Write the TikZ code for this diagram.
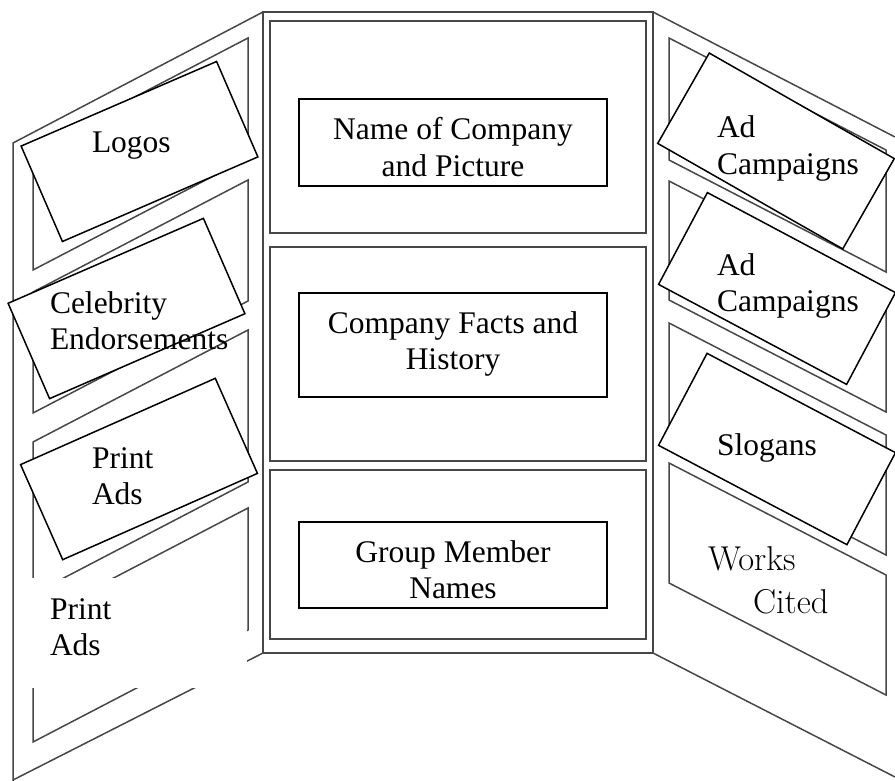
\documentclass[tikz,border=0pt]{standalone}
\usepackage{fontspec}
\newfontfamily\tnr{Liberation Serif}
\newcommand{\tsize}{\fontsize{31.5}{36.5}\selectfont}
\newcommand{\lmsize}{\fontsize{34.5}{43}\selectfont}
\newcommand{\ltxt}[1]{\begin{tabular}[t]{@{}l@{}}#1\end{tabular}}
\newcommand{\ctxt}[1]{\begin{tabular}[t]{@{}c@{}}#1\end{tabular}}
\begin{document}
\begin{tikzpicture}[x=1pt,y=-1pt,
  frame/.style={draw=black!72, line width=1.5pt, line join=miter},
  cardbox/.style={draw=black, line width=1.5pt, fill=white, inner sep=0pt, outer sep=0pt,
    minimum width=213pt, minimum height=104pt},
  labelbox/.style={draw=black, line width=1.7pt, inner sep=0pt, outer sep=0pt, minimum width=308pt},
  blank/.style={fill=white, inner sep=0pt, outer sep=0pt},
  txt/.style={inner sep=0pt, outer sep=0pt, font=\tnr\tsize},
  lmtxt/.style={inner sep=0pt, outer sep=0pt, font=\lmsize}]
\useasboundingbox (0,0) rectangle (895,781);

% ---- left wing ----
\draw[frame] (263,12) -- (13,143) -- (13,781);
\draw[frame] (13,780) -- (263,653);
\draw[frame] (33,150) -- (248,38) -- (248,158) -- (33,270) -- cycle;
\draw[frame] (33,292) -- (248,180) -- (248,301) -- (33,413) -- cycle;
\draw[frame] (33,442) -- (248,330) -- (248,482) -- (33,594) -- cycle;
\draw[frame] (33,620) -- (248,508) -- (248,630) -- (33,742) -- cycle;

% ---- right wing ----
\draw[frame] (653,12) -- (895,137);
\draw[frame] (653,653) -- (895,777);
\draw[frame] (669,38) -- (886,150) -- (886,272) -- (669,160) -- cycle;
\draw[frame] (669,181) -- (886,293) -- (886,412) -- (669,300) -- cycle;
\draw[frame] (669,323) -- (886,435) -- (886,555) -- (669,443) -- cycle;
\draw[frame] (669,463) -- (886,575) -- (886,695) -- (669,583) -- cycle;

% ---- centre panel ----
\draw[frame] (263,12) rectangle (653,653);
\draw[frame] (270,21) rectangle (646,233);
\draw[frame] (270,247) rectangle (646,461);
\draw[frame] (270,470) rectangle (646,639);

\node[labelbox, minimum height=87pt] (namebox) at (453,142.5) {};
\node[labelbox, minimum height=104pt] (factsbox) at (453,345) {};
\node[labelbox, minimum height=86pt] (groupbox) at (453,565) {};

% ---- cards ----
\node[cardbox, rotate=23.4] (logoscard) at (139.5,151.5) {};
\node[cardbox, rotate=23.5] (celebcard) at (126.5,308.5) {};
\node[cardbox, rotate=23.9] (printcard) at (139,469) {};
\node[blank, minimum width=215pt, minimum height=110pt] (printblank) at (139.5,633) {};

\node[cardbox, rotate=-29.7] (adcard1) at (776,151) {};
\node[cardbox, rotate=-28] (adcard2) at (777,288.5) {};
\node[cardbox, rotate=-27.8] (slogancard) at (777,449) {};

% ---- texts ----
\node[txt, anchor=base west] (logos) at (92,153) {Logos};
\node[txt, anchor=base west] (celeb) at (50,313) {\ltxt{Celebrity\\Endorsements}};
\node[txt, anchor=base west] (print1) at (92,468) {\ltxt{Print\\Ads}};
\node[txt, anchor=base west] (print2) at (50,619) {\ltxt{Print\\Ads}};

\node[txt, anchor=base west] (ad1) at (717,138) {\ltxt{Ad\\Campaigns}};
\node[txt, anchor=base west] (ad2) at (717,275) {\ltxt{Ad\\Campaigns}};
\node[txt, anchor=base west] (slogans) at (717,455) {Slogans};
\node[lmtxt, anchor=base west] (works) at (708,570) {\ltxt{Works\\\hspace*{45pt}Cited}};

\node[txt, anchor=base] (nametxt) at (453,140) {\ctxt{Name of Company\\and Picture}};
\node[txt, anchor=base] (factstxt) at (453,333) {\ctxt{Company Facts and\\History}};
\node[txt, anchor=base] (grouptxt) at (453,562) {\ctxt{Group Member\\Names}};
\end{tikzpicture}
\end{document}
